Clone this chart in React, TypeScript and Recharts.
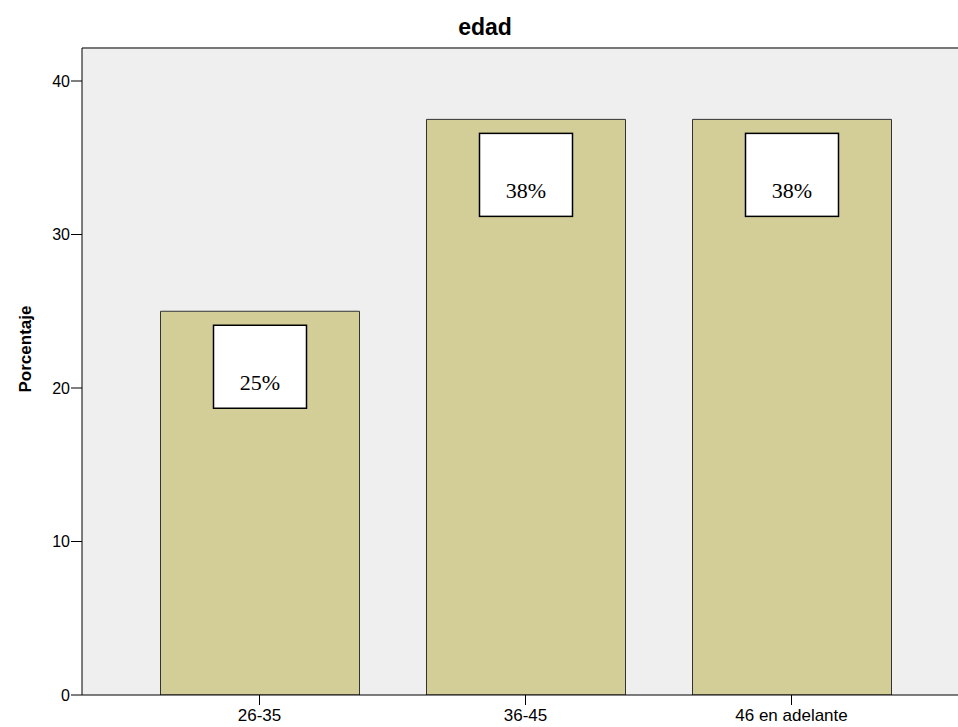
import React from 'react';
import { BarChart, Bar, XAxis, YAxis, CartesianGrid, LabelList, ReferenceLine } from 'recharts';

const categories = ['26-35', '36-45', '46 en adelante'];
const percentages = [25, 37.5, 37.5];
const yTicks = [0, 10, 20, 30, 40];
const Y_MAX = 42.15;

const data = categories.map((c, i) => ({ edad: c, porcentaje: percentages[i] }));

const sans = '"Liberation Sans", Arial, sans-serif';
const serif = '"Liberation Serif", "Times New Roman", serif';

const BoxLabel = (props: any) => {
  const { x, y, width, value } = props;
  const cx = Number(x) + Number(width) / 2;
  const top = Number(y) + 14;
  return (
    <g>
      <rect x={cx - 46.5} y={top} width={93} height={83} fill="#ffffff" stroke="#000000" strokeWidth={1.5} />
      <text x={cx} y={top + 65} textAnchor="middle" fontFamily={serif} fontSize={22} fill="#000000">
        {Math.round(value) + '%'}
      </text>
    </g>
  );
};

const YLabel = (props: any) => {
  const vb = props.viewBox || { x: 0, y: 0, height: 0 };
  const x = vb.x + 25;
  const y = 349;
  return (
    <text
      x={x}
      y={y}
      transform={`rotate(-90 ${x} ${y})`}
      textAnchor="middle"
      dominantBaseline="central"
      fontFamily={sans}
      fontWeight="bold"
      fontSize={17}
      fill="#000000"
    >
      Porcentaje
    </text>
  );
};

export default function App() {
  return (
    <div style={{ position: 'fixed', left: 0, top: 0, width: 958, height: 727, overflow: 'hidden', background: '#ffffff' }}>
      <div
        style={{
          position: 'absolute',
          left: 0,
          top: 13,
          width: 970,
          textAlign: 'center',
          fontFamily: sans,
          fontWeight: 'bold',
          fontSize: 23,
          lineHeight: '28px',
          color: '#000000',
        }}
      >
        edad
      </div>
      <div style={{ position: 'absolute', left: 0, top: 0 }}>
        <BarChart width={980} height={727} data={data} margin={{ top: 48, right: 11, bottom: 0, left: 0 }}>
          <CartesianGrid fill="#efefef" horizontal={false} vertical={false} />
          <ReferenceLine y={Y_MAX} stroke="#777777" strokeWidth={2} ifOverflow="visible" />
          <XAxis
            dataKey="edad"
            height={32}
            padding={{ left: 44.5, right: 44.5 }}
            tickSize={10}
            tickMargin={4}
            stroke="#000000"
            tickLine={{ stroke: '#000000' }}
            tick={{ fill: '#000000', fontSize: 17, fontFamily: sans }}
            interval={0}
          />
          <YAxis
            width={82}
            domain={[0, Y_MAX]}
            ticks={yTicks}
            tickSize={11}
            tickMargin={1}
            stroke="#000000"
            tickLine={{ stroke: '#000000' }}
            tick={{ fill: '#000000', fontSize: 16, fontFamily: sans }}
            allowDataOverflow
            label={<YLabel />}
          />
          <Bar dataKey="porcentaje" fill="#d3ce98" stroke="#333333" strokeWidth={1} barSize={199} isAnimationActive={false}>
            <LabelList dataKey="porcentaje" content={<BoxLabel />} />
          </Bar>
        </BarChart>
      </div>
    </div>
  );
}
